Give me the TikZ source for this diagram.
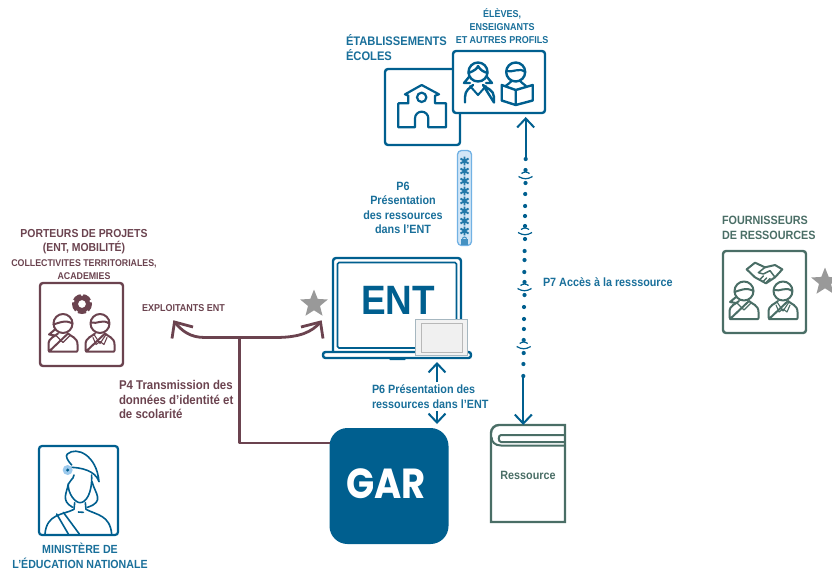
\documentclass[tikz,border=0pt]{standalone}
\usepackage{fontspec}
\setmainfont{Liberation Sans}[FakeStretch=0.9]
\usetikzlibrary{arrows.meta,shapes.geometric,calc}
\definecolor{cblue}{HTML}{005F8F}
\definecolor{cmaroon}{HTML}{6B434F}
\definecolor{cgreen}{HTML}{4A6E66}
\definecolor{cgray}{HTML}{999999}
\definecolor{cpale}{HTML}{D3E6F6}
\definecolor{cpaleb}{HTML}{72B2E4}
\tikzset{
  every node/.style={outer sep=0pt},
  framebox/.style={draw,line width=2.4pt,rounded corners=3pt,fill=white,inner sep=0pt,anchor=north west},
  txt/.style={font=\bfseries,inner sep=0pt,align=center},
  bluetxt/.style={txt,text=cblue!90!white},
  marontxt/.style={txt,text=cmaroon},
  greentxt/.style={txt,text=cgreen},
  bluearrow/.style={-{Straight Barb[length=9pt,width=17pt,line width=2pt]},draw=cblue,line width=2pt},
  maroonline/.style={draw=cmaroon,line width=2.8pt},
  startop/.style={star,star points=5,star point ratio=2.3,fill=cgray,inner sep=0pt,minimum size=29pt},
  icon/.style={line width=2pt,line join=round,line cap=round},
  pics/girl/.style={code={
    \draw[icon] (0,0) circle[radius=9.5];
    \draw[icon] (-9.5,1) .. controls (-3,-1) and (2,-4) .. (9.5,0);
    \draw[icon] (-8,6) -- (-14,11) -- (-8,12);
    \draw[icon] (-14.5,27) -- (-14.5,21) .. controls (-14.5,14) and (-8,13) .. (-5,10) (5,10) .. controls (8,13) and (14.5,14) .. (14.5,21) -- (14.5,27) -- (14,28) -- (-14,28) -- cycle;
    \draw[icon,line width=1.3pt] (-7,12) -- (0,19) -- (7,12);
  }},
  pics/boy/.style={code={
    \draw[icon] (0,0) circle[radius=9.5];
    \draw[icon] (-9,-1) .. controls (-3,1) and (3,-5) .. (9,0);
    \draw[icon] (-14.5,27) -- (-14.5,21) .. controls (-14.5,14) and (-8,13) .. (-5,10) (5,10) .. controls (8,13) and (14.5,14) .. (14.5,21) -- (14.5,27) -- (14,28) -- (-14,28) -- cycle;
    \draw[icon,line width=1.1pt] (-6,11) -- (0,20) -- (6,11) (-7,14) -- (-4,21) -- (0,18) -- (4,21) -- (7,14);
  }},
  pics/wifi/.style={code={
    \fill[cblue] (0,-7) circle[radius=2.1];
    \fill[cblue] (0,6) circle[radius=2.1];
    \draw[cblue,line width=1.2pt] (-4,-3.5) .. controls (-1,-5.5) and (1,-5.5) .. (4,-3.5);
    \draw[cblue,line width=1.2pt] (-7,-.5) .. controls (-2,2.5) and (2,2.5) .. (7,-.5);
  }}
}
\begin{document}
\begin{tikzpicture}[x=1pt,y=-1pt]
\useasboundingbox (0,0) rectangle (832,574);
% Etablissements
\node[framebox,draw=cblue,minimum width=75pt,minimum height=76pt] (etab) at (385,69) {};
\begin{scope}[shift={(340,0)},scale=1/3,cblue]
  \draw[icon,line width=2.2pt] (175,382) -- (175,310) -- (205,310) -- (205,287) -- (195,283) -- (245,255) -- (297,283) -- (285,287) -- (285,310) -- (318,310) -- (318,382) -- (265,382) -- (265,355) arc[start angle=0,end angle=-180,radius=20] -- (225,382) -- cycle;
  \draw[icon,line width=2.2pt] (245,292) circle[radius=14];
\end{scope}
% Profils
\node[framebox,draw=cblue,minimum width=92pt,minimum height=62pt] (profils) at (453,51) {};
\begin{scope}[cblue]
  \draw[icon,line width=2.4pt] (478,72) circle[radius=9.5];
  \draw[icon,line width=2.4pt] (468.5,73) .. controls (474,71) and (478,68) .. (478,66) .. controls (480,70) and (484,72) .. (487.5,73);
  \draw[icon,line width=2.4pt] (469,77) -- (464,83) -- (470,83) (487,77) -- (492,83) -- (486,83);
  \draw[icon,line width=2.4pt] (465,102.5) -- (465,97) .. controls (465,90) and (470,88) .. (473,85) (483,85) .. controls (486,88) and (494,90) .. (494,97) -- (494,102.5) -- cycle;
  \draw[icon,line width=2pt] (470,86) -- (478,95) -- (486,86);
  \draw[icon,line width=2.4pt] (515.7,72) circle[radius=9.5];
  \draw[icon,line width=2.2pt] (506.5,71) .. controls (512,73) and (520,67) .. (525,72);
  \draw[icon,line width=2.2pt] (505.5,86) .. controls (508,84) and (510,83) .. (511,81.5) (520.5,81.5) .. controls (521.5,83) and (524,84) .. (526,86);
  \draw[icon,line width=2.4pt] (501.7,85) -- (515.7,90) -- (532.7,85) -- (532.7,100.5) -- (515.7,105) -- (501.7,100.5) -- cycle (515.7,90) -- (515.7,105);
\end{scope}
\node[bluetxt,font=\bfseries\fontsize{12.4}{15}\selectfont,align=left,anchor=north west] (etabtxt) at (346,34.5) {ÉTABLISSEMENTS\\ÉCOLES};
\node[bluetxt,font=\bfseries\fontsize{10}{13}\selectfont] (proftxt) at (502,26) {ÉLÈVES,\\ENSEIGNANTS\\ET AUTRES PROFILS};
% Mot de passe
\node[draw=cpaleb,fill=cpale,line width=1.3pt,rounded corners=4pt,minimum width=14pt,minimum height=95pt,inner sep=0pt] (pwd) at (464.5,198) {};
\foreach \yy in {161,171,181,191,201,211,221,231}{
  \draw[cblue!70!cpaleb,line width=1.9pt] (464.5,\yy-4.3) -- (464.5,\yy+4.3) (460.5,\yy-2.5) -- (468.5,\yy+2.5) (460.5,\yy+2.5) -- (468.5,\yy-2.5);
}
\fill[cpaleb!60!cblue] (461,239) rectangle (468,245);
\draw[cpaleb!60!cblue,line width=1pt] (462.5,239) arc[start angle=180,end angle=360,radius=2];
\node[bluetxt,font=\bfseries\fontsize{12}{14.5}\selectfont] (p6a) at (403,208) {P6\\Présentation\\des ressources\\dans l'ENT};
% Wifi line
\coordinate (wtop) at (525.7,159);
\coordinate (wbot) at (523.3,376);
\coordinate (wtip) at ($(profils.south -| wtop)+(0,4)$);
\draw[bluearrow] (wtop) -- (wtip);
\fill[cblue] (wtop) circle[radius=2.1];
\foreach \yy/\xx in {194/525.2,206/525.1,216/525,251/524.6,260/524.5,272/524.3,307/524,319/524,329/523.9,364/523.4}{
  \fill[cblue] (\xx,\yy) circle[radius=2.1];
}
\pic at (525.5,177) {wifi};
\pic at (525,233) {wifi};
\pic at (524.5,289) {wifi};
\pic at (523.7,347) {wifi};
\fill[cblue] (wbot) circle[radius=2.1];
\node[bluetxt,font=\bfseries\fontsize{12}{14}\selectfont,anchor=west] (p7) at (543,282) {P7 Accès à la resssource};
% Ressource
\node[minimum width=74pt,minimum height=97pt,inner sep=0pt,anchor=north west,font=\bfseries\fontsize{12}{14}\selectfont,text=cgreen] (res) at (491,425) {\raisebox{-12pt}{Ressource}};
\draw[cgreen,line width=2.4pt] (res.north east) [rounded corners=8pt] -- (res.north west) [sharp corners] -- (res.south west) -- (res.south east) -- cycle;
\draw[cgreen,line width=2pt] (564.5,435) -- (501,435) .. controls (498,435) and (498,442) .. (501,442) -- (564.5,442);
\draw[cgreen,line width=2pt] (491.5,437) .. controls (491.5,442) and (495,445.5) .. (501,445.5) -- (564.5,445.5);
\draw[bluearrow] (wbot) -- (res.north -| wbot);
% ENT laptop
\node[draw=cblue,fill=white,line width=2.4pt,rounded corners=3pt,minimum width=128pt,minimum height=96pt,inner sep=0pt,anchor=north west] (laptop) at (333,258) {};
\draw[cblue,line width=1.6pt,rounded corners=1.5pt] (337.5,262.5) rectangle (456.5,348);
\node[draw=cblue,fill=white,line width=2.4pt,rounded corners=2.5pt,minimum width=148pt,minimum height=6pt,inner sep=0pt,anchor=north west] (base) at (323,352) {};
\fill[cblue] (388,357) -- (407,357) -- (405,360) -- (390,360) -- cycle;
\node[txt,text=cblue,font=\bfseries\fontsize{41}{41}\selectfont] (enttxt) at (398,300.5) {ENT};
\node[draw=cblue!30!cgray!60,fill=white!95!black,line width=1pt,minimum width=52pt,minimum height=36pt,inner sep=0pt,anchor=north west] (tablet) at (415,319) {};
\draw[cgray!70,line width=1pt,fill=white!94!black] (421,323) rectangle (462,352);
\node[startop] (star1) at (314,304) {};
\node[startop] (star2) at (825,282) {};
% Double arrow
\node[bluetxt,font=\bfseries\fontsize{12}{14.5}\selectfont,align=left,anchor=west] (p6b) at (372,396.5) {P6 Présentation des\\ressources dans l'ENT};
\coordinate (aup) at (437,382);
\coordinate (adn) at (437,411);
\coordinate (auptip) at ($(base.south -| aup)+(0,4)$);
\draw[bluearrow] (aup) -- (auptip);
\node[fill=cblue,rounded corners=18pt,minimum width=119pt,minimum height=116pt,inner sep=0pt,anchor=north west] (gar) at (329.5,428) {};
\node[font=\fontsize{42}{42}\selectfont,text=white,inner sep=0pt] (gartxt) at (386,483.5) {\fontspec{Poppins}[FakeStretch=0.88]\bfseries GAR};
\coordinate (adntip) at ($(gar.north -| adn)+(0,-4)$);
\draw[bluearrow] (adn) -- (adntip);
% Porteurs
\node[framebox,draw=cmaroon,minimum width=83pt,minimum height=83pt] (port) at (40,283) {};
\pic[cmaroon] at (63,323.5) {girl};
\pic[cmaroon] at (100,323.5) {boy};
\fill[cmaroon,even odd rule] (82,304) circle[radius=10] (82,304) circle[radius=4];
\fill[white] (82,294.6) circle[radius=1.6] (91,301) circle[radius=1.6] (87.5,312) circle[radius=1.6] (76.5,312) circle[radius=1.6] (73,301) circle[radius=1.6];
\node[marontxt,font=\bfseries\fontsize{11.6}{14.5}\selectfont] (porttxt) at (84,241.5) {PORTEURS DE PROJETS\\(ENT, MOBILITÉ)};
\node[marontxt,font=\bfseries\fontsize{9.8}{13}\selectfont] (porttxt2) at (84,269.5) {COLLECTIVITES TERRITORIALES,\\ACADEMIES};
\node[marontxt,font=\bfseries\fontsize{10}{12}\selectfont] (exp) at (183.5,308) {EXPLOITANTS ENT};
\node[marontxt,font=\bfseries\fontsize{12.7}{14.5}\selectfont,align=left,anchor=west] (p4) at (119,399.5) {P4 Transmission des\\données d'identité et\\de scolarité};
% Connecteur P4
\coordinate (junc) at (239.5,337.5);
\coordinate (tipl) at (174.5,322);
\coordinate (tipr) at (320.5,322);
\draw[maroonline,line join=round] (gar.west |- 0,443) -- (239.5,443) -- (junc);
\draw[maroonline] (tipl) .. controls (182,331) and (190,337.5) .. (205,337.5) -- (275,337.5) .. controls (300,337.5) and (312,332) .. (tipr);
\draw[maroonline,line join=miter] (172,338.5) -- (tipl) -- (193,327);
\draw[maroonline,line join=miter] (323,338.5) -- (tipr) -- (301,327);
% Fournisseurs
\node[framebox,draw=cgreen,minimum width=83pt,minimum height=82pt] (four) at (723,251) {};
\pic[cgreen] at (744,291) {girl};
\pic[cgreen] at (783,291) {boy};
\begin{scope}[shift={(700,200)},scale=1/3,cgreen]
  \draw[icon] (140,208) -- (165,188) -- (195,202) -- (225,195) -- (247,208) -- (225,232) -- (198,250) -- (165,232) -- cycle;
  \draw[icon,line width=1.5pt] (195,202) -- (175,218) -- (190,222) -- (210,212) -- (225,232);
  \draw[icon,line width=1.5pt] (180,238) -- (190,228) (190,244) -- (200,234) (200,246) -- (210,236);
\end{scope}
\node[greentxt,font=\bfseries\fontsize{12}{15}\selectfont,align=left,anchor=north west] (fourtxt) at (722,216) {FOURNISSEURS\\DE RESSOURCES};
% Ministere
\node[framebox,draw=cblue,minimum width=79pt,minimum height=89pt,line width=2.2pt] (min) at (39,446) {};
\begin{scope}[shift={(0,430)},scale=1/3,cblue]
  \draw[icon,line width=1.6pt] (215,105) .. controls (203,92) and (195,78) .. (202,72) .. controls (230,48) and (290,75) .. (297,155) .. controls (290,135) and (270,115) .. (215,112);
  \draw[icon,line width=1.6pt] (222,135) .. controls (220,150) and (208,150) .. (205,162) .. controls (203,190) and (225,218) .. (240,218) .. controls (258,218) and (277,190) .. (275,135);
  \draw[icon,line width=1.6pt] (205,162) .. controls (200,190) and (182,212) .. (218,232);
  \draw[icon,line width=1.6pt] (276,155) .. controls (285,190) and (316,215) .. (262,232);
  \draw[icon,line width=1.6pt] (224,218) -- (222,238) .. controls (190,255) and (140,250) .. (135,312) (256,218) -- (258,238) .. controls (290,255) and (330,255) .. (335,312);
  \draw[icon,line width=1.6pt] (170,252) -- (205,312) (190,247) -- (238,312);
  \draw[icon,line width=1.6pt] (235,246) -- (250,247);
  \fill[cpaleb!70!white] (203,120) circle[radius=15];
  \fill[cblue] (203,120) circle[radius=5];
\end{scope}
\node[bluetxt,font=\bfseries\fontsize{11.8}{15}\selectfont] (mintxt) at (80,555.5) {MINISTÈRE DE\\L'ÉDUCATION NATIONALE};
\end{tikzpicture}
\end{document}
